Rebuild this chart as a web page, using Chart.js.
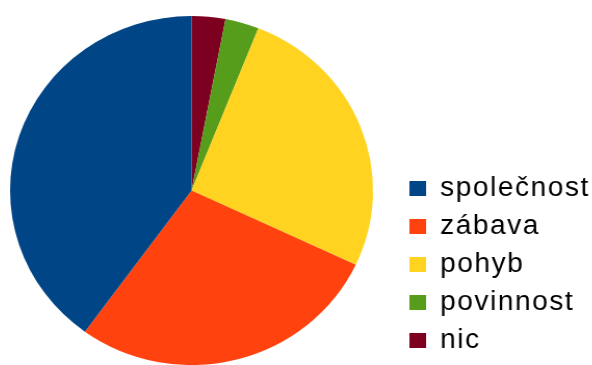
<!DOCTYPE html>
<html>
<head>
<meta charset="utf-8">
<script src="https://cdn.jsdelivr.net/npm/chart.js@4/dist/chart.umd.min.js"></script>
<style>
  html, body { margin: 0; padding: 0; background: #fff; overflow: hidden; }
  body { width: 592px; height: 365px; position: relative; }
  /* the drawing is a bit wider than tall, so the canvas is stretched sideways */
  #wrap {
    position: absolute; left: 0; top: 0;
    width: 587px; height: 365px;
    transform-origin: 0 0;
    transform: translateX(-14.9px) scaleX(1.04);
  }
</style>
</head>
<body>
<div id="wrap"><canvas id="pie" width="587" height="365"></canvas></div>
<script>
// kategorie v pořadí legendy
const categories = ['společnost', 'zábava', 'pohyb', 'povinnost', 'nic'];
const values = [40, 28, 26, 3, 3];
const colors = ['#004586', '#ff420e', '#ffd320', '#579d1c', '#7e0021'];

// Chart.js kreslí po směru hodinových ručiček, výseče jdou opačně -> obrátit pořadí
const labelsCw = categories.slice().reverse();
const valuesCw = values.slice().reverse();
const colorsCw = colors.slice().reverse();

// širší rozestup písmen v legendě (nastavit znovu po každém resetu kontextu)
const letterSpacingPlugin = {
  id: 'letterSpacing',
  beforeLayout(chart) { chart.ctx.letterSpacing = '1.5px'; },
  beforeDraw(chart) { chart.ctx.letterSpacing = '1.5px'; }
};

const chart = new Chart(document.getElementById('pie'), {
  type: 'pie',
  data: {
    labels: labelsCw,
    datasets: [{
      data: valuesCw,
      backgroundColor: colorsCw,
      borderWidth: 0,
      hoverOffset: 0
    }]
  },
  options: {
    responsive: false,
    animation: false,
    events: [],
    layout: { padding: { top: 16, left: 0, right: 0, bottom: 0 } },
    plugins: {
      tooltip: { enabled: false },
      legend: {
        position: 'right',
        align: 'end',
        reverse: true,
        maxWidth: 190,
        labels: {
          boxWidth: 16,
          boxHeight: 15,
          padding: 11,
          color: '#000',
          font: { family: '"Liberation Sans", Arial, sans-serif', size: 27 }
        }
      }
    }
  },
  plugins: [letterSpacingPlugin]
});
</script>
</body>
</html>
